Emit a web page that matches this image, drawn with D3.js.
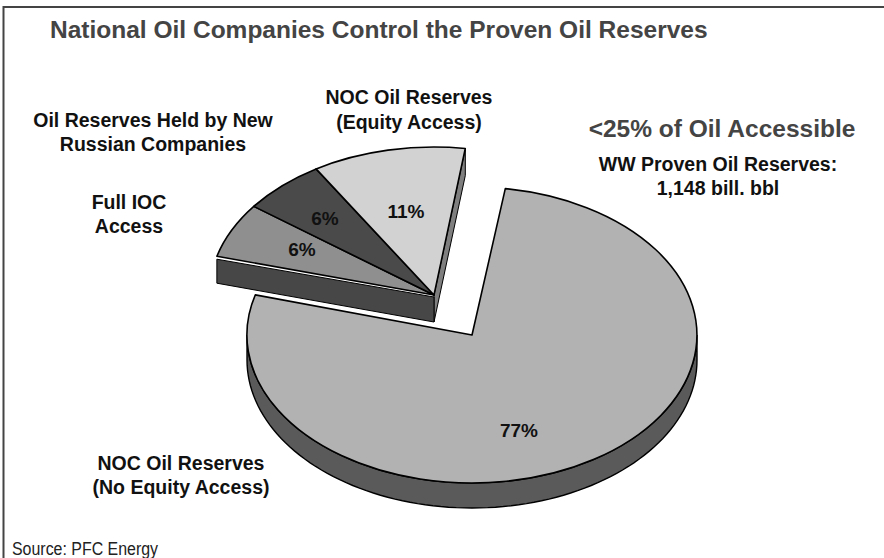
<!DOCTYPE html>
<html>
<head>
<meta charset="utf-8">
<script src="https://cdn.jsdelivr.net/npm/d3@7"></script>
<style>
  html, body { margin: 0; background: #fff; }
  svg { display: block; }
  text { font-family: "Liberation Sans", Arial, sans-serif; font-weight: bold; fill: #111; }
</style>
</head>
<body>
<svg id="chart" width="884" height="558"></svg>
<script>
// Share of world proven oil reserves, in percent
const mainCategories = ["NOC Oil Reserves (No Equity Access)"];
const mainValues = [77];
const splitCategories = ["Full IOC Access", "Oil Reserves Held by New Russian Companies", "NOC Oil Reserves (Equity Access)"];
const splitValues = [6, 6, 11];
const splitColors = ["#8f8f8f", "#4a4a4a", "#d2d2d2"];

const rx = 225, ry = 148, depth = 25;
const center = [472, 335];
const exploded = [-38, -40];
const rad = d => d * Math.PI / 180;

const svg = d3.select("#chart");

// Only the top and left rules of the frame are drawn
svg.append("path").attr("d", d3.line()([[3.5, 558], [3.5, 7], [884, 7]]))
  .attr("fill", "none").attr("stroke", "#444").attr("stroke-width", 2);

// Each group gets its angular span in proportion to its share of the 360 degrees
const total = d3.sum(mainValues) + d3.sum(splitValues);
const degPerUnit = 360 / total;
const mainStart = 8.5;
const splitEnd = 8;

const mainSlice = d3.pie().sort(null)
  .startAngle(rad(mainStart))
  .endAngle(rad(mainStart + d3.sum(mainValues) * degPerUnit))(mainValues)[0];
const splitSlices = d3.pie().sort(null)
  .startAngle(rad(splitEnd - d3.sum(splitValues) * degPerUnit))
  .endAngle(rad(splitEnd))(splitValues);

const arc = d3.arc().innerRadius(0).outerRadius(1);
const px = a => Math.sin(a) * rx;
const py = a => -Math.cos(a) * ry;

function faceGroup(offset) {
  return svg.append("g").attr("transform", `translate(${center[0] + offset[0]},${center[1] + offset[1]})`);
}
function drawFace(g, d, fill) {
  g.append("path")
    .attr("d", arc(d))
    .attr("transform", `scale(${rx},${ry})`)
    .attr("fill", fill)
    .attr("stroke", "#000")
    .attr("stroke-width", 1.6)
    .attr("stroke-linejoin", "round")
    .style("vector-effect", "non-scaling-stroke");
}
const polyLine = d3.line();

// Main slice: curved rim along the front of the ellipse, then the top face
const mainG = faceGroup([0, 0]);
const rimAngles = d3.range(90, 270.5, 2).map(rad);
const rimPts = rimAngles.map(a => [px(a), py(a)])
  .concat(rimAngles.slice().reverse().map(a => [px(a), py(a) + depth]));
mainG.append("path").attr("d", polyLine(rimPts) + "Z")
  .attr("fill", "#5a5a5a").attr("stroke", "#000").attr("stroke-width", 1.4);
drawFace(mainG, mainSlice, "#b2b2b2");

// Pulled-out group: flat cut faces, then the three top faces
const splitG = faceGroup(exploded);
const leftA = splitSlices[0].startAngle;
const rightA = splitSlices[2].endAngle;
const cutDepth = depth + 2;
splitG.append("path")
  .attr("d", polyLine([[px(rightA), py(rightA)], [0, 0], [0, cutDepth], [px(rightA), py(rightA) + cutDepth]]) + "Z")
  .attr("fill", "#7f7f7f").attr("stroke", "#000").attr("stroke-width", 1);
splitG.append("path")
  .attr("d", polyLine([[px(leftA), py(leftA) + 3], [0, 2], [0, cutDepth], [px(leftA), py(leftA) + cutDepth]]) + "Z")
  .attr("fill", "#474747").attr("stroke", "#000").attr("stroke-width", 1);
splitSlices.forEach((d, i) => drawFace(splitG, d, splitColors[i]));

// Multi-line text helper
function label(lines, x, y, size, lh, opts = {}) {
  const t = svg.append("text").attr("x", x).attr("y", y)
    .attr("font-size", size).attr("text-anchor", opts.anchor || "middle");
  if (opts.fill) t.style("fill", opts.fill);
  if (opts.weight) t.style("font-weight", opts.weight);
  if (opts.family) t.style("font-family", opts.family);
  if (opts.fit) t.attr("textLength", opts.fit).attr("lengthAdjust", "spacingAndGlyphs");
  lines.forEach((s, i) => t.append("tspan").attr("x", x).attr("y", y + i * lh).text(s));
}

label(["National Oil Companies Control the Proven Oil Reserves"], 50, 38, 24.5, 0, { anchor: "start", fill: "#444" });
label(["NOC Oil Reserves", "(Equity Access)"], 409, 104, 19.5, 24.5);
label(["Oil Reserves Held by New", "Russian Companies"], 153, 127, 19.5, 24);
label(["Full IOC", "Access"], 129, 209, 19.5, 24);
label(["<25% of Oil Accessible"], 722, 137, 24.5, 0, { fill: "#444" });
label(["WW Proven Oil Reserves:", "1,148 bill. bbl"], 718, 171, 19.5, 24);
label(["NOC Oil Reserves", "(No Equity Access)"], 181, 470, 19.5, 24);
label(["Source: PFC Energy"], 12, 555, 18, 0, { anchor: "start", weight: "normal", fill: "#222", family: "'Liberation Sans Narrow', 'Liberation Sans', sans-serif", fit: 146 });

// Percent labels on the slices
label([splitValues[2] + "%"], 406, 218, 19, 0);
label([splitValues[1] + "%"], 325, 225, 19, 0);
label([splitValues[0] + "%"], 302, 256, 19, 0);
label([mainValues[0] + "%"], 519, 437, 19, 0);
</script>
</body>
</html>
